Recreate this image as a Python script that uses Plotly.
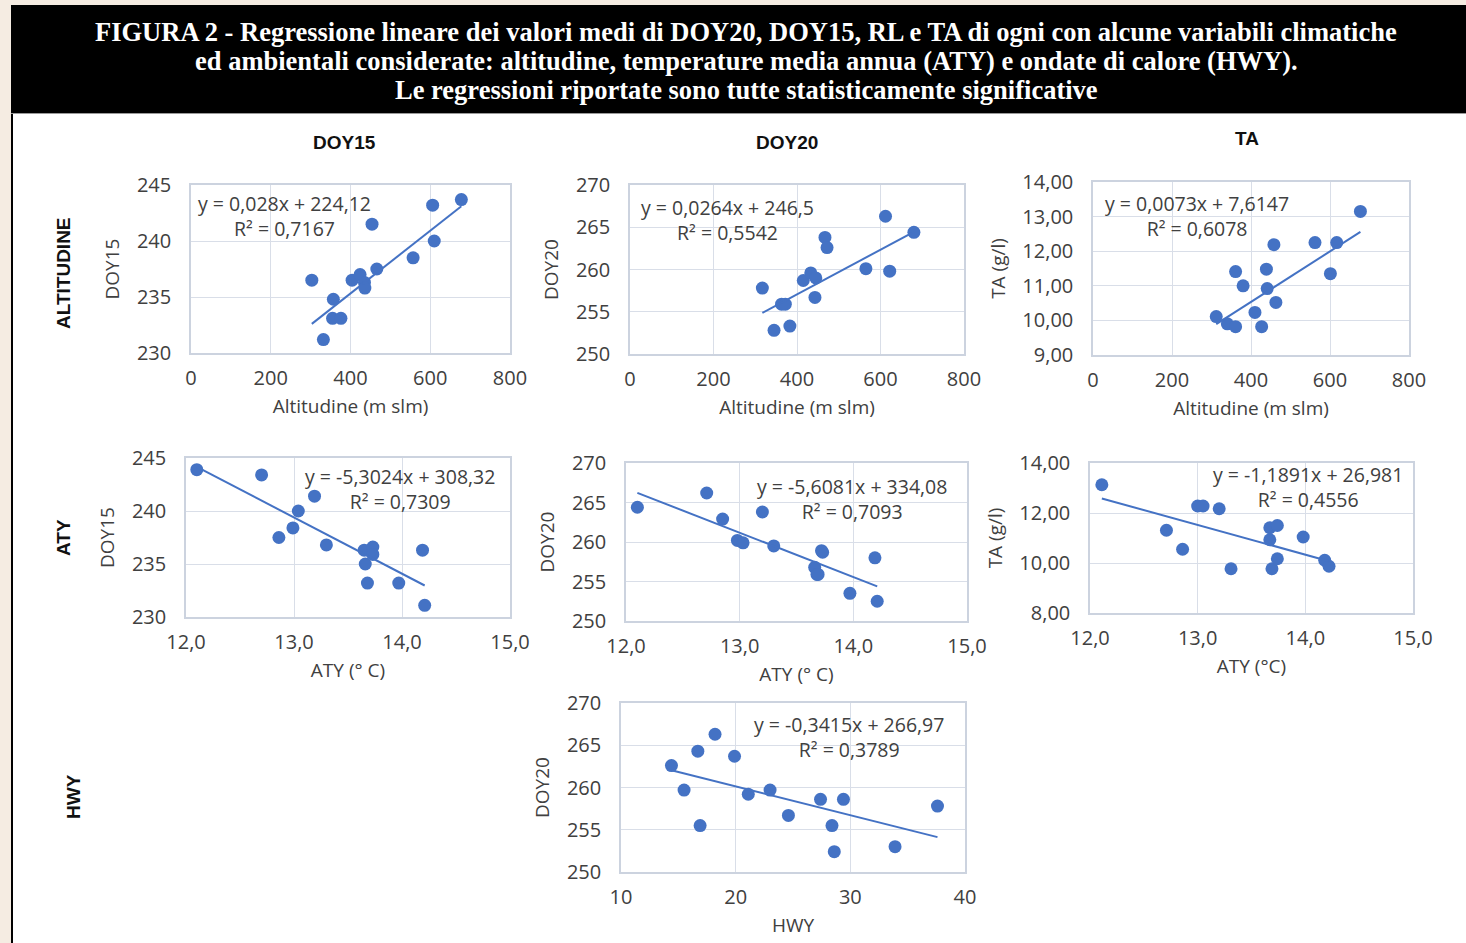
import plotly.graph_objects as go

W, H = 1466, 943

# ---------------- data ----------------
alt_doy15 = [303, 357, 355, 376, 332, 404, 424, 435, 436, 454, 466, 557, 606, 610, 678]
doy15_alt = [236.5, 234.8, 233.1, 233.1, 231.2, 236.5, 237.0, 236.3, 235.8, 241.5, 237.5, 238.5, 243.2, 240.0, 243.7]

alt_doy20 = [317, 345, 363, 372, 383, 415, 433, 445, 443, 467, 472, 565, 612, 622, 680]
doy20_alt = [257.8, 252.8, 255.9, 255.9, 253.3, 258.7, 259.6, 259.0, 256.7, 263.8, 262.6, 260.1, 266.3, 259.8, 264.4]

alt_ta = [312, 340, 361, 361, 380, 410, 427, 439, 441, 458, 463, 562, 601, 617, 677]
ta_alt = [10.11, 9.90, 9.82, 11.41, 11.00, 10.23, 9.82, 11.48, 10.92, 12.19, 10.52, 12.25, 11.35, 12.25, 13.15]

aty_doy15 = [12.10, 12.70, 12.86, 12.99, 13.04, 13.19, 13.30, 13.65, 13.66, 13.68, 13.73, 13.73, 13.97, 14.19, 14.21]
doy15_aty = [243.9, 243.4, 237.5, 238.4, 240.0, 241.4, 236.8, 236.3, 235.0, 233.2, 236.6, 235.9, 233.2, 236.3, 231.1]

aty_doy20 = [12.10, 12.71, 12.85, 12.98, 13.03, 13.20, 13.30, 13.66, 13.68, 13.69, 13.72, 13.73, 13.97, 14.19, 14.21]
doy20_aty = [264.4, 266.2, 262.9, 260.2, 259.9, 263.8, 259.5, 256.8, 255.9, 255.9, 258.9, 258.7, 253.5, 258.0, 252.5]

aty_ta = [12.11, 12.71, 12.86, 13.00, 13.05, 13.20, 13.31, 13.67, 13.74, 13.67, 13.69, 13.74, 13.98, 14.18, 14.22]
ta_aty = [13.13, 11.31, 10.55, 12.28, 12.28, 12.17, 9.77, 11.41, 11.50, 10.93, 9.77, 10.17, 11.04, 10.11, 9.87]

hwy_doy20 = [14.4, 15.5, 16.7, 16.9, 18.2, 19.9, 21.1, 23.0, 24.6, 27.4, 28.4, 28.6, 29.4, 33.9, 37.6]
doy20_hwy = [262.6, 259.7, 264.3, 255.5, 266.3, 263.7, 259.2, 259.7, 256.7, 258.6, 255.5, 252.4, 258.6, 253.0, 257.8]

# regression coefficients (slope, intercept) and R² as printed
slopes = [0.028, 0.0264, 0.0073, -5.3024, -5.6081, -1.1891, -0.3415]
intercepts = [224.12, 246.5, 7.6147, 308.32, 334.08, 26.981, 266.97]
r2_vals = ["0,7167", "0,5542", "0,6078", "0,7309", "0,7093", "0,4556", "0,3789"]
eq_texts = ["y = 0,028x + 224,12", "y = 0,0264x + 246,5", "y = 0,0073x + 7,6147",
            "y = -5,3024x + 308,32", "y = -5,6081x + 334,08", "y = -1,1891x + 26,981",
            "y = -0,3415x + 266,97"]

col_titles = ["DOY15", "DOY20", "TA"]
row_titles = ["ALTITUDINE", "ATY", "HWY"]
title_lines = [
    "FIGURA 2 - Regressione lineare dei valori medi di DOY20, DOY15, RL e TA di ogni con alcune variabili climatiche",
    "ed ambientali considerate: altitudine, temperature media annua (ATY) e ondate di calore (HWY).",
    "Le regressioni riportate sono tutte statisticamente significative",
]

# ---------------- layout helpers ----------------
def px_x(p):
    return p / W

def px_y(p):
    return 1 - p / H

FONT = "Open Sans"
TXT = "#404040"
BLUE = "#4472C4"
GRID = "#d9dee8"

# box = plot area in pixels (x0, x1, y0, y1); eq = equation label block centre (x, y) in pixels
panels = [
    dict(x=alt_doy15, y=doy15_alt, box=(191, 510, 185, 353), xr=[0, 800], xd=200, xf="d", yr=[230, 245], yd=5, yf="d",
         xt="Altitudine (m slm)", yt="DOY15", eq=(284, 216)),
    dict(x=alt_doy20, y=doy20_alt, box=(630, 964, 185, 354), xr=[0, 800], xd=200, xf="d", yr=[250, 270], yd=5, yf="d",
         xt="Altitudine (m slm)", yt="DOY20", eq=(727, 220)),
    dict(x=alt_ta, y=ta_alt, box=(1093, 1409, 182, 355), xr=[0, 800], xd=200, xf="d", yr=[9, 14], yd=1, yf=".2f",
         xt="Altitudine (m slm)", yt="TA (g/l)", eq=(1197, 216)),
    dict(x=aty_doy15, y=doy15_aty, box=(186, 510, 458, 617), xr=[12, 15], xd=1, xf=".1f", yr=[230, 245], yd=5, yf="d",
         xt="ATY (° C)", yt="DOY15", eq=(400, 489)),
    dict(x=aty_doy20, y=doy20_aty, box=(626, 967, 463, 621), xr=[12, 15], xd=1, xf=".1f", yr=[250, 270], yd=5, yf="d",
         xt="ATY (° C)", yt="DOY20", eq=(852, 499)),
    dict(x=aty_ta, y=ta_aty, box=(1090, 1413, 463, 613), xr=[12, 15], xd=1, xf=".1f", yr=[8, 14], yd=2, yf=".2f",
         xt="ATY (°C)", yt="TA (g/l)", eq=(1308, 487)),
    dict(x=hwy_doy20, y=doy20_hwy, box=(621, 965, 703, 872), xr=[10, 40], xd=10, xf="d", yr=[250, 270], yd=5, yf="d",
         xt="HWY", yt="DOY20", eq=(849, 737)),
]

fig = go.Figure()
layout = {}
annotations = []

for i, p in enumerate(panels):
    n = i + 1
    xa = "x" if n == 1 else f"x{n}"
    ya = "y" if n == 1 else f"y{n}"
    x0, x1, y0, y1 = p["box"]
    axcommon = dict(showgrid=True, gridcolor=GRID, gridwidth=1.3, showline=True, linecolor="#ccd3df", linewidth=1.5,
                    mirror=True, zeroline=False, ticks="", automargin=False,
                    tickfont=dict(family=FONT, size=20, color=TXT),
                    title_font=dict(family=FONT, size=19, color=TXT))
    layout["xaxis" if n == 1 else f"xaxis{n}"] = dict(
        axcommon, domain=[px_x(x0), px_x(x1)], anchor=ya, range=p["xr"], dtick=p["xd"], tick0=p["xr"][0],
        tickformat=p["xf"], title=dict(text=p["xt"], standoff=10), ticklabelstandoff=6)
    layout["yaxis" if n == 1 else f"yaxis{n}"] = dict(
        axcommon, domain=[px_y(y1), px_y(y0)], anchor=xa, range=p["yr"], dtick=p["yd"], tick0=p["yr"][0],
        tickformat=p["yf"], title=dict(text=p["yt"], standoff=12), ticklabelstandoff=14)

    fig.add_trace(go.Scatter(x=p["x"], y=p["y"], mode="markers", xaxis=xa, yaxis=ya,
                             marker=dict(color=BLUE, size=13), showlegend=False, hoverinfo="x+y"))
    xmin, xmax = min(p["x"]), max(p["x"])
    fig.add_trace(go.Scatter(x=[xmin, xmax], y=[slopes[i] * xmin + intercepts[i], slopes[i] * xmax + intercepts[i]],
                             mode="lines", xaxis=xa, yaxis=ya, line=dict(color=BLUE, width=2), showlegend=False,
                             hoverinfo="skip"))
    ex, ey = p["eq"]
    annotations.append(dict(text=f"{eq_texts[i]}<br>R² = {r2_vals[i]}", xref="paper", yref="paper",
                            x=px_x(ex), y=px_y(ey), xanchor="center", yanchor="middle", align="center",
                            showarrow=False, font=dict(family=FONT, size=19.5, color=TXT)))

for t, cx, cy in zip(col_titles, [344, 787, 1247], [142, 142, 139]):
    annotations.append(dict(text=f"<b>{t}</b>", xref="paper", yref="paper", x=px_x(cx), y=px_y(cy),
                            xanchor="center", yanchor="middle", showarrow=False,
                            font=dict(family="Liberation Sans", size=19, color="#111111")))
for t, cx, cy in zip(row_titles, [63, 63, 73], [273, 538, 797]):
    annotations.append(dict(text=f"<b>{t}</b>", xref="paper", yref="paper", x=px_x(cx), y=px_y(cy),
                            xanchor="center", yanchor="middle", textangle=-90, showarrow=False,
                            font=dict(family="Liberation Sans", size=19, color="#111111")))
for t, cy in zip(title_lines, [32, 61, 90]):
    annotations.append(dict(text=f"<b>{t}</b>", xref="paper", yref="paper", x=px_x(746), y=px_y(cy),
                            xanchor="center", yanchor="middle", showarrow=False,
                            font=dict(family="Liberation Serif", size=26.5, color="white")))

shapes = [
    dict(type="rect", xref="paper", yref="paper", x0=px_x(11), x1=1, y0=0, y1=px_y(113),
         fillcolor="white", line=dict(width=0), layer="below"),
    dict(type="rect", xref="paper", yref="paper", x0=px_x(11), x1=1, y0=px_y(113), y1=px_y(5),
         fillcolor="black", line=dict(width=0), layer="below"),
    dict(type="line", xref="paper", yref="paper", x0=px_x(12), x1=px_x(12), y0=0, y1=px_y(113),
         line=dict(color="black", width=2), layer="above"),
    dict(type="line", xref="paper", yref="paper", x0=px_x(11), x1=1, y0=px_y(113.5), y1=px_y(113.5),
         line=dict(color="#9a9a9a", width=1), layer="above"),
]

fig.update_layout(
    template="none",
    width=W, height=H, margin=dict(l=0, r=0, t=0, b=0, autoexpand=False),
    paper_bgcolor="#f5ece2", plot_bgcolor="white",
    separators=",.", annotations=annotations, shapes=shapes, **layout,
)

fig.write_html("out.html", config={"displayModeBar": False},
               post_script="document.body.style.margin='0';document.body.style.overflow='hidden';")
